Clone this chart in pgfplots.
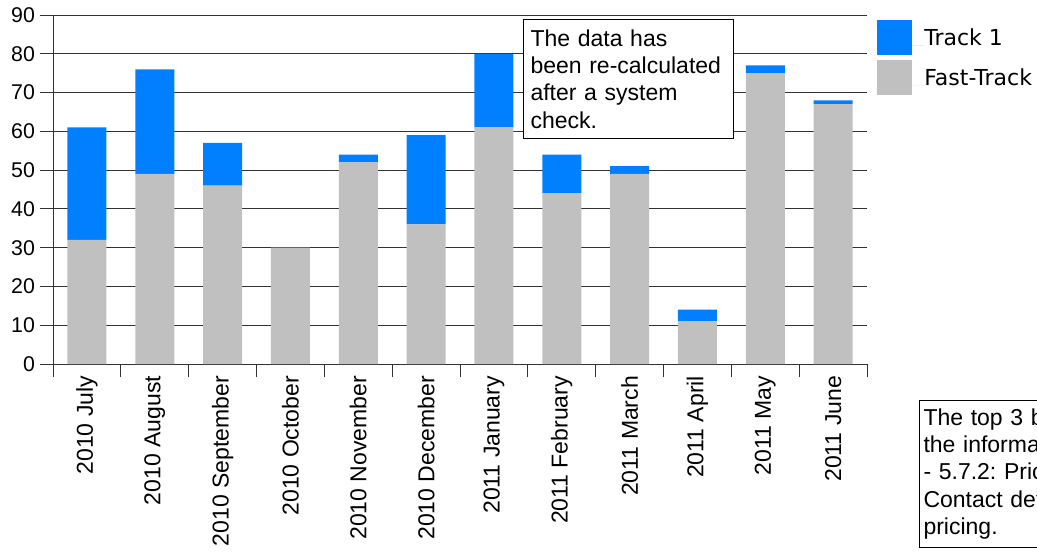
\documentclass[border=0pt]{standalone}
\usepackage{fontspec}
\setmainfont{Liberation Sans}
\newfontfamily\legfont{DejaVu Sans}
\usepackage{pgfplots}
\pgfplotsset{compat=1.18}
\definecolor{trackblue}{RGB}{0,128,255}
\definecolor{fastgray}{RGB}{192,192,192}
\definecolor{gridgray}{RGB}{50,50,50}

\pgfplotstableread{
idx fast track
0   32   29
1   49   27
2   46   11
3   30   0
4   52   2
5   36   23
6   61   19
7   44   10
8   49   2
9   11   3
10  75   2
11  67   1
}\monthly

\begin{document}
\frenchspacing
\begin{tikzpicture}
\begin{axis}[
  at={(39.75pt,140.25pt)}, anchor=south west,
  scale only axis, width=610.5pt, height=261.75pt,
  ybar stacked, bar width=0.575,
  xmin=-0.5, xmax=11.5, ymin=0, ymax=90,
  ytick={0,10,...,90},
  xtick={0,...,11},
  xticklabels={2010 July,2010 August,2010 September,2010 October,2010 November,2010 December,2011 January,2011 February,2011 March,2011 April,2011 May,2011 June},
  axis x line*=bottom, axis y line*=left,
  axis line style={gridgray, line width=0.75pt},
  ymajorgrids, grid style={gridgray, line width=0.75pt},
  tick align=outside, major tick length=10pt,
  xtick style={draw=none},
  ytick style={gridgray, line width=0.75pt},
  extra x ticks={-0.5,0.5,...,11.5}, extra x tick labels={},
  extra x tick style={xtick style={draw=gridgray, line width=0.75pt}, grid=none},
  /pgf/number format/assume math mode=true,
  yticklabel style={font=\fontsize{16}{18}\selectfont},
  xticklabel shift=-4.5pt,
  xticklabel style={rotate=90, anchor=east, font=\fontsize{17.25}{20}\selectfont},
  reverse legend,
  legend style={at={(axis description cs:1.0123,0.9857)}, anchor=north west,
    draw=none, fill=none, inner sep=0pt, row sep=3.75pt,
    font=\legfont\fontsize{16.5}{18}\selectfont,
    nodes={inner sep=0pt, anchor=base west}},
  legend cell align=left,
  legend image code/.code={%
    \fill[#1,draw=none] (0pt,-7.4pt) rectangle (26.25pt,18.85pt);
    \path (26.25pt,0pt) -- (35.25pt,0pt);},
]
\addplot[fill=fastgray, draw=none] table[x=idx, y=fast] {\monthly};
\addplot[fill=trackblue, draw=none] table[x=idx, y=track] {\monthly};
\legend{Fast-Track, Track 1}
\end{axis}

\begin{scope}[x=0.75pt,y=0.75pt]
\node[draw=black, fill=white, line width=0.75pt, anchor=north west,
  minimum width=157.5pt, minimum height=89.25pt, text width=147pt,
  inner xsep=5.25pt, inner ysep=0pt, align=left,
  font=\fontsize{17.25}{20.5}\selectfont]
  at (523,532) {The data has\\been re-calculated\\after a system\\check.};

\node[draw=black, fill=white, line width=0.75pt, anchor=north west,
  minimum height=110pt, text width=200pt,
  inner xsep=3pt, inner ysep=0pt, align=left,
  font=\fontsize{17.25}{20.5}\selectfont]
  at (919,151) {The top 3 bars show\\the information from\\- 5.7.2: Pricing\\Contact details for\\pricing.};

\pgfresetboundingbox
\path (0,0) rectangle (1037,551);
\end{scope}
\end{tikzpicture}
\end{document}
